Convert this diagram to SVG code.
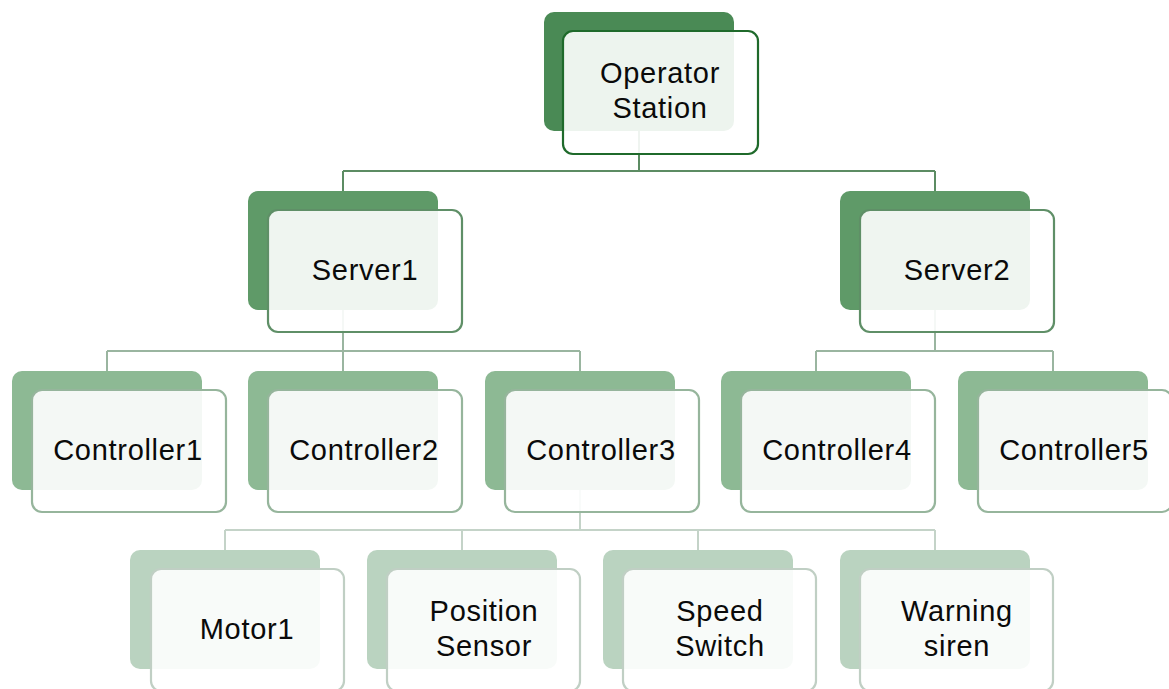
<svg xmlns="http://www.w3.org/2000/svg" width="1169" height="689" viewBox="0 0 1169 689">
<style>
.t{font-family:"Liberation Sans",Arial,sans-serif;font-size:29px;letter-spacing:0.7px;fill:#0a0a0a;text-anchor:middle}
.f{fill:#fff;fill-opacity:0.9;stroke-width:2.2}
.b0{fill:#4a8a55}.s0{stroke:#1f6a2b}
.b1{fill:#5f9a68}.s1{stroke:#5f8f67}
.b2{fill:#8db994}.s2{stroke:#96b59c}
.b3{fill:#bad3c0}.s3{stroke:#c0cfc4}
.c{fill:none;stroke-width:2}
</style>
<rect width="1169" height="689" fill="#fff"/>
<g id="connectors">
<path class="c" stroke="#5c8c63" d="M639 131V171M343 171H935M343 171V191M935 171V191"/>
<path class="c" stroke="#9ab5a0" d="M343 310V351M107 351H580M107 351V371M343 351V371M580 351V371M935 310V351M816 351H1053M816 351V371M1053 351V371"/>
<path class="c" stroke="#c4d3c8" d="M580 490V530M225 530H935M225 530V550M462 530V550M698 530V550M935 530V550"/>
</g>
<g id="operator-station">
<rect class="b0" x="544" y="12" width="190" height="119" rx="10"/>
<rect class="f s0" x="563" y="31" width="195" height="123" rx="10"/>
<text class="t" x="660" y="83">Operator</text>
<text class="t" x="660" y="118">Station</text>
</g>
<g id="server1">
<rect class="b1" x="248" y="191" width="190" height="119" rx="10"/>
<rect class="f s1" x="268" y="210" width="194" height="122" rx="10"/>
<text class="t" x="365" y="280">Server1</text>
</g>
<g id="server2">
<rect class="b1" x="840" y="191" width="190" height="119" rx="10"/>
<rect class="f s1" x="860" y="210" width="194" height="122" rx="10"/>
<text class="t" x="957" y="280">Server2</text>
</g>
<g id="controller1">
<rect class="b2" x="12" y="371" width="190" height="119" rx="10"/>
<rect class="f s2" x="32" y="390" width="194" height="122" rx="10"/>
<text class="t" x="128" y="460">Controller1</text>
</g>
<g id="controller2">
<rect class="b2" x="248" y="371" width="190" height="119" rx="10"/>
<rect class="f s2" x="268" y="390" width="194" height="122" rx="10"/>
<text class="t" x="364" y="460">Controller2</text>
</g>
<g id="controller3">
<rect class="b2" x="485" y="371" width="190" height="119" rx="10"/>
<rect class="f s2" x="505" y="390" width="194" height="122" rx="10"/>
<text class="t" x="601" y="460">Controller3</text>
</g>
<g id="controller4">
<rect class="b2" x="721" y="371" width="190" height="119" rx="10"/>
<rect class="f s2" x="741" y="390" width="194" height="122" rx="10"/>
<text class="t" x="837" y="460">Controller4</text>
</g>
<g id="controller5">
<rect class="b2" x="958" y="371" width="190" height="119" rx="10"/>
<rect class="f s2" x="978" y="390" width="194" height="122" rx="10"/>
<text class="t" x="1074" y="460">Controller5</text>
</g>
<g id="motor1">
<rect class="b3" x="130" y="550" width="190" height="119" rx="10"/>
<rect class="f s3" x="151" y="569" width="193" height="122" rx="10"/>
<text class="t" x="247" y="639">Motor1</text>
</g>
<g id="position-sensor">
<rect class="b3" x="367" y="550" width="190" height="119" rx="10"/>
<rect class="f s3" x="387" y="569" width="193" height="122" rx="10"/>
<text class="t" x="484" y="621">Position</text>
<text class="t" x="484" y="656">Sensor</text>
</g>
<g id="speed-switch">
<rect class="b3" x="603" y="550" width="190" height="119" rx="10"/>
<rect class="f s3" x="623" y="569" width="193" height="122" rx="10"/>
<text class="t" x="720" y="621">Speed</text>
<text class="t" x="720" y="656">Switch</text>
</g>
<g id="warning-siren">
<rect class="b3" x="840" y="550" width="190" height="119" rx="10"/>
<rect class="f s3" x="860" y="569" width="193" height="122" rx="10"/>
<text class="t" x="957" y="621">Warning</text>
<text class="t" x="957" y="656">siren</text>
</g>
</svg>
